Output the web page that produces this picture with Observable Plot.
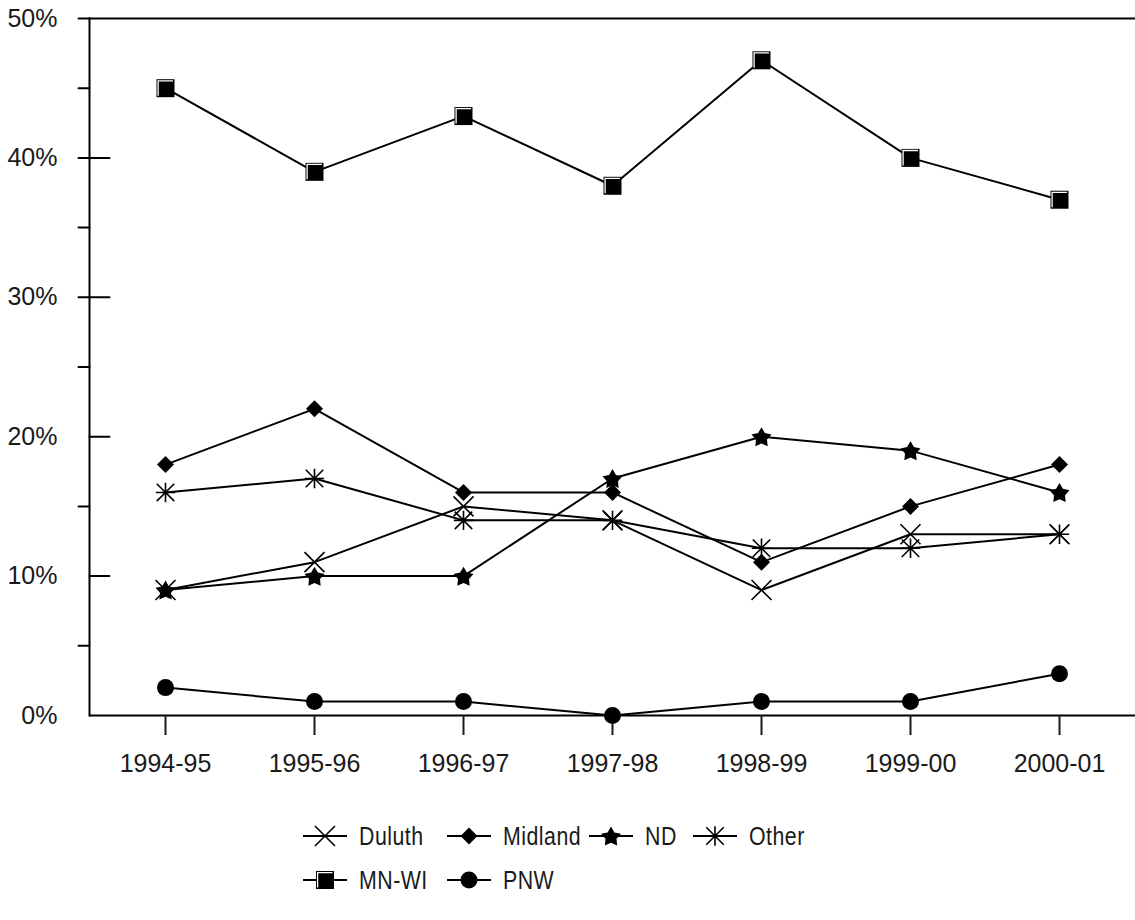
<!DOCTYPE html>
<html><head><meta charset="utf-8">
<script src="https://cdn.jsdelivr.net/npm/d3@7"></script>
<script src="https://cdn.jsdelivr.net/npm/@observablehq/plot@0.6"></script>
<style>
body{margin:0;background:#fff;font-family:"Liberation Sans",sans-serif;}
#legend{margin-left:303px;margin-top:14px;font-size:26px;letter-spacing:0.6px;color:#1a1a1a;
  display:grid;grid-template-columns:144px 142px 104px auto;grid-auto-rows:44px;align-items:center}
.item{display:flex;align-items:center;white-space:nowrap}
.item svg{margin-right:12px;overflow:visible;flex:none}
.item span{display:inline-block;transform:scaleX(0.82);transform-origin:left center}
</style></head><body>
<div id="chart"></div><div id="legend"></div>
<script>
// ---- data ----
const seasons = ["1994-95","1995-96","1996-97","1997-98","1998-99","1999-00","2000-01"];
const seriesNames = ["Duluth","Midland","ND","Other","MN-WI","PNW"];
const duluth  = [9, 11, 15, 14, 9, 13, 13];
const midland = [18, 22, 16, 16, 11, 15, 18];
const nd      = [9, 10, 10, 17, 20, 19, 16];
const other   = [16, 17, 14, 14, 12, 12, 13];
const mnwi    = [45, 39, 43, 38, 47, 40, 37];
const pnw     = [2, 1, 1, 0, 1, 1, 3];
const yLabelTicks = [0, 0.1, 0.2, 0.3, 0.4, 0.5];
const yInTicks = [0.1, 0.2, 0.3, 0.4];
const yOutTicks = [0.05, 0.15, 0.25, 0.3, 0.35, 0.4, 0.45, 0.5];

const values = {"Duluth": duluth, "Midland": midland, "ND": nd, "Other": other, "MN-WI": mnwi, "PNW": pnw};
const rows = seriesNames.flatMap(s => values[s].map((v, i) => ({season: seasons[i], series: s, value: v / 100})));

// ---- custom symbols (radius = sqrt(size/PI)) ----
const R = size => Math.sqrt(size / Math.PI);
const symTimes = {draw(c, s){const r=R(s); c.moveTo(-r,-r); c.lineTo(r,r); c.moveTo(-r,r); c.lineTo(r,-r);}};
const symDiamond = {draw(c, s){const r=R(s); c.moveTo(0,-r); c.lineTo(r,0); c.lineTo(0,r); c.lineTo(-r,0); c.closePath();}};
const symStar = {draw(c, s){const r=R(s), ri=r*0.55; for(let i=0;i<10;i++){const a=-Math.PI/2+i*Math.PI/5; const rr=i%2?ri:r; const x=rr*Math.cos(a), y=rr*Math.sin(a)+r*0.1; i?c.lineTo(x,y):c.moveTo(x,y);} c.closePath();}};
const symAst = {draw(c, s){const r=R(s), d=r*0.9; c.moveTo(-r,0); c.lineTo(r,0); c.moveTo(0,-r); c.lineTo(0,r); c.moveTo(-d,-d); c.lineTo(d,d); c.moveTo(-d,d); c.lineTo(d,-d);}};
const symSquare = {draw(c, s){const r=R(s); c.rect(-r,-r,2*r,2*r);}};
const symHi = {draw(c, s){const r=R(s); c.moveTo(-r+1.6, r-1.5); c.lineTo(-r+1.6,-r+1.6); c.lineTo(r-1.5,-r+1.6);}};
const symCircle = {draw(c, s){const r=R(s); c.moveTo(r,0); c.arc(0,0,r,0,2*Math.PI);}};

const markerSpecs = {
  "Duluth":  [{symbol: symTimes, r: 10, fill: "none", stroke: "black", strokeWidth: 1.6}],
  "Midland": [{symbol: symDiamond, r: 8.5, fill: "black", stroke: "none"}],
  "ND":      [{symbol: symStar, r: 10.5, fill: "black", stroke: "none"}],
  "Other":   [{symbol: symAst, r: 9.7, fill: "none", stroke: "black", strokeWidth: 1.6}],
  "MN-WI":   [{symbol: symSquare, r: 9, fill: "black", stroke: "none"},
              {symbol: symHi, r: 9, fill: "none", stroke: "white", strokeWidth: 1.3}],
  "PNW":     [{symbol: symCircle, r: 8.5, fill: "black", stroke: "none"}]
};

const tickShape = {draw(c, l){ c.moveTo(0,0); c.lineTo(0,-l); }};

const dotMarks = seriesNames.flatMap(s => markerSpecs[s].map(spec =>
  Plot.dot(rows.filter(d => d.series === s), {x: "season", y: "value", ...spec})));

const chart = Plot.plot({
  width: 1135, height: 800,
  marginLeft: 89, marginRight: 0, marginTop: 18, marginBottom: 85,
  style: {fontFamily: '"Liberation Sans",sans-serif', fontSize: "25px", color: "#1a1a1a", background: "white"},
  x: {type: "point", domain: seasons, padding: 0.5, label: null},
  y: {domain: [0, 0.5], label: null},
  marks: [
    Plot.ruleY([0], {stroke: "black", strokeWidth: 2}),
    Plot.ruleY([0.5], {stroke: "black", strokeWidth: 2}),
    Plot.frame({anchor: "left", stroke: "black", strokeWidth: 2}),
    Plot.vectorY(yInTicks, {y: d => d, frameAnchor: "left", rotate: 90, length: 20, anchor: "start", shape: tickShape, stroke: "black", strokeWidth: 2}),
    Plot.vectorY(yOutTicks, {y: d => d, frameAnchor: "left", rotate: -90, length: 11, anchor: "start", shape: tickShape, stroke: "black", strokeWidth: 2}),
    Plot.axisY({ticks: yLabelTicks, tickSize: 0, tickPadding: 32, tickFormat: d => Math.round(d * 100) + "%", fontSize: 25, label: null}),
    Plot.axisX({tickSize: 20, tickPadding: 19, strokeWidth: 2, fontSize: 25, label: null}),
    Plot.line(rows, {x: "season", y: "value", z: "series", stroke: "black", strokeWidth: 2}),
    ...dotMarks
  ]
});
document.getElementById("chart").appendChild(chart);

// ---- legend ----
const legend = document.getElementById("legend");
for (const n of seriesNames) {
  const item = document.createElement("div"); item.className = "item";
  let svg = `<svg width="44" height="24" viewBox="0 0 44 24"><line x1="0" x2="44" y1="12" y2="12" stroke="black" stroke-width="2"/>`;
  for (const spec of markerSpecs[n]) {
    const p = d3.symbol(spec.symbol, Math.PI * spec.r * spec.r)();
    svg += `<path transform="translate(22,12)" d="${p}" fill="${spec.fill}" stroke="${spec.stroke}" stroke-width="${spec.strokeWidth || 0}"/>`;
  }
  svg += `</svg>`;
  item.innerHTML = svg + `<span>${n}</span>`;
  legend.appendChild(item);
}
</script>
</body></html>
